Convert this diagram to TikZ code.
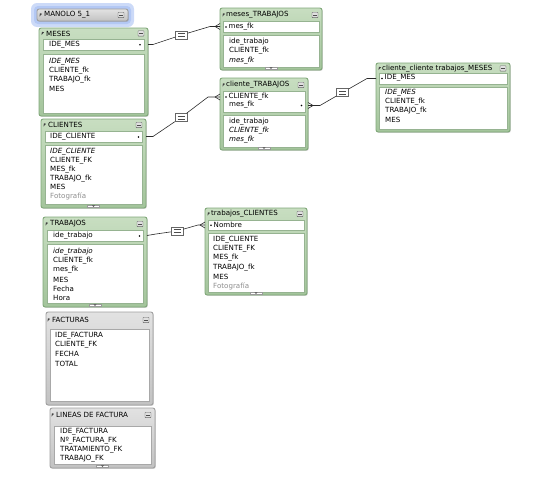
\documentclass[tikz,border=0pt]{standalone}
\usepackage{fontspec}
\setmainfont{DejaVu Sans}
\usetikzlibrary{shadows,calc}
\definecolor{gbord}{HTML}{80A879}
\definecolor{gtop}{HTML}{C8DEC1}
\definecolor{gbot}{HTML}{A3C49B}
\definecolor{ginner}{HTML}{96B391}
\definecolor{gybord}{HTML}{A0A0A0}
\definecolor{gytop}{HTML}{E2E2E2}
\definecolor{gybot}{HTML}{C2C2C2}
\definecolor{gyinner}{HTML}{A8A8A8}
\definecolor{linec}{HTML}{2A2A2A}
\definecolor{fotoc}{HTML}{8E8E8E}
\definecolor{glowc}{HTML}{CCDAF8}
\definecolor{glowd}{HTML}{B3C8F4}
\tikzset{
  shd/.style={drop shadow={shadow xshift=0.8pt,shadow yshift=-0.9pt,opacity=0.35}},
  gtbl/.style={draw=gbord,line width=0.9pt,rounded corners=2.2pt,top color=gtop,bottom color=gbot,inner sep=0pt,outer sep=0pt,shd},
  gytbl/.style={draw=gybord,line width=0.9pt,rounded corners=2.2pt,top color=gytop,bottom color=gybot,inner sep=0pt,outer sep=0pt,shd},
  ginbox/.style={draw=ginner,line width=0.5pt,fill=white,inner sep=0pt,outer sep=0pt},
  gyinbox/.style={draw=gyinner,line width=0.5pt,fill=white,inner sep=0pt,outer sep=0pt},
  fld/.style={anchor=west,inner sep=0pt,font=\fontsize{7.1}{8}\selectfont,text=black},
  ttl/.style={anchor=west,inner sep=0pt,font=\fontsize{7.1}{8}\selectfont,text=black},
  conn/.style={draw=linec,line width=0.6pt},
  eqbox/.style={draw=black!60,line width=0.5pt,fill=white,minimum width=12pt,minimum height=8pt,inner sep=0pt},
  eqline/.style={draw=black!70,line width=0.5pt},
  keydot/.style={fill=black},
}
\newcommand\mybox[6]{\node[#1,anchor=north west,minimum width={(#5-#3)*1pt},minimum height={(#6-#4)*1pt}] (#2) at (#3,#4) {};}
\newcommand\hdricons[3]{%
  \fill[black!75] (#1,#2+1.6) -- (#1+2.6,#2-1.4) -- (#1+0.4,#2-1.6) -- cycle;
  \draw[black!60,line width=0.4pt,rounded corners=0.6pt,fill=black!12] (#3-9,#2-2.8) rectangle (#3-3,#2+2.6);
  \draw[black!70,line width=0.6pt] (#3-8,#2-0.1) -- (#3-4,#2-0.1);}
\newcommand\scrollmk[2]{%
  \draw[black!40,line width=0.3pt,fill=white] (#1-6,#2-3.2) rectangle (#1+6,#2-0.6);
  \fill[black!70] (#1-1.5,#2-2.6) -- (#1+1.5,#2-2.6) -- (#1,#2-1.1) -- cycle;}
\begin{document}
\begin{tikzpicture}[x=1pt,y=-1pt]
\useasboundingbox (0,0) rectangle (538,479);

% MANOLO 5_1
\fill[glowc,rounded corners=6pt] (31,3) rectangle (134,27);
\fill[glowd,rounded corners=4pt] (34,6) rectangle (131,24);
\mybox{gytbl}{manolo}{37}{9}{128}{21}
\node[ttl] (manolot) at (44,15) {MANOLO 5\_1};
\hdricons{39.5}{15}{127}

% MESES
\mybox{gtbl}{meses}{39}{28}{148}{116}
\node[ttl] (mesest) at (46,33.5) {MESES};
\hdricons{41.5}{33.5}{147}
\mybox{ginbox}{meseskey}{43}{39}{144}{50}
\node[fld] (mesesk1) at (49,44.5) {IDE\_MES};
\fill[keydot] (140,44.8) circle (0.9);
\mybox{ginbox}{mesesf}{43}{54}{144}{113}
\node[fld] (mesesf1) at (49,62) {\itshape IDE\_MES};
\node[fld] (mesesf2) at (49,71) {CLIENTE\_fk};
\node[fld] (mesesf3) at (49,80) {TRABAJO\_fk};
\node[fld] (mesesf4) at (49,89) {MES};

% CLIENTES
\mybox{gtbl}{clientes}{41}{119}{146}{208}
\node[ttl] (clientest) at (48,125) {CLIENTES};
\hdricons{43.5}{125}{145}
\mybox{ginbox}{clienteskey}{45}{131}{142}{142}
\node[fld] (clientesk1) at (50,136.5) {IDE\_CLIENTE};
\fill[keydot] (138.5,137) circle (0.9);
\mybox{ginbox}{clientesf}{45}{145}{142}{204}
\node[fld] (clientesf1) at (50,152) {\itshape IDE\_CLIENTE};
\node[fld] (clientesf2) at (50,161) {CLIENTE\_FK};
\node[fld] (clientesf3) at (50,169.5) {MES\_fk};
\node[fld] (clientesf4) at (50,178.5) {TRABAJO\_fk};
\node[fld] (clientesf5) at (50,187) {MES};
\node[fld,text=fotoc] (clientesf6) at (50,196) {Fotografía};
\scrollmk{93.5}{208}

% TRABAJOS
\mybox{gtbl}{trabajos}{43}{217}{147}{307}
\node[ttl] (trabajost) at (50,224) {TRABAJOS};
\hdricons{45.5}{224}{146}
\mybox{ginbox}{trabajoskey}{47}{230}{143}{241}
\node[fld] (trabajosk1) at (53,235.5) {ide\_trabajo};
\fill[keydot] (139.5,236) circle (0.9);
\mybox{ginbox}{trabajosf}{47}{244}{143}{303}
\node[fld] (trabajosf1) at (53,252) {\itshape ide\_trabajo};
\node[fld] (trabajosf2) at (53,261) {CLIENTE\_fk};
\node[fld] (trabajosf3) at (53,270) {mes\_fk};
\node[fld] (trabajosf4) at (53,280) {MES};
\node[fld] (trabajosf5) at (53,289) {Fecha};
\node[fld] (trabajosf6) at (53,298) {Hora};
\scrollmk{95}{307}

% FACTURAS
\mybox{gytbl}{facturas}{46}{312}{153}{405}
\node[ttl] (facturast) at (52,320) {FACTURAS};
\hdricons{47.5}{320}{152}
\mybox{gyinbox}{facturasf}{50}{329}{149}{401}
\node[fld] (facturasf1) at (55,336) {IDE\_FACTURA};
\node[fld] (facturasf2) at (55,345) {CLIENTE\_FK};
\node[fld] (facturasf3) at (55,354) {FECHA};
\node[fld] (facturasf4) at (55,364) {TOTAL};

% LINEAS DE FACTURA
\mybox{gytbl}{lineas}{50}{408}{155}{468}
\node[ttl] (lineast) at (56,415) {LINEAS DE FACTURA};
\hdricons{51.5}{415}{154}
\mybox{gyinbox}{lineasf}{54}{426}{151}{464}
\node[fld] (lineasf1) at (60,432) {IDE\_FACTURA};
\node[fld] (lineasf2) at (60,441) {Nº\_FACTURA\_FK};
\node[fld] (lineasf3) at (60,450) {TRATAMIENTO\_FK};
\node[fld] (lineasf4) at (60,459) {TRABAJO\_FK};
\scrollmk{102.5}{468}

% meses_TRABAJOS
\mybox{gtbl}{mtrab}{220}{8}{322}{70}
\node[ttl] (mtrabt) at (226,15) {meses\_TRABAJOS};
\hdricons{222.5}{15}{321}
\mybox{ginbox}{mtrabkey}{223}{21}{319}{32}
\fill[keydot] (226,27) circle (0.9);
\node[fld] (mtrabk1) at (228.5,26.5) {mes\_fk};
\mybox{ginbox}{mtrabf}{223}{35}{319}{67}
\node[fld] (mtrabf1) at (229,42) {ide\_trabajo};
\node[fld] (mtrabf2) at (229,51) {CLIENTE\_fk};
\node[fld] (mtrabf3) at (229,61) {\itshape mes\_fk};
\scrollmk{271}{70}

% cliente_TRABAJOS
\mybox{gtbl}{ctrab}{220}{78}{308}{150}
\node[ttl] (ctrabt) at (226,85) {cliente\_TRABAJOS};
\hdricons{222.5}{85}{307}
\mybox{ginbox}{ctrabkey}{223}{91}{305}{112}
\fill[keydot] (226,97) circle (0.9);
\node[fld] (ctrabk1) at (228.5,96.5) {CLIENTE\_fk};
\node[fld] (ctrabk2) at (229,105) {mes\_fk};
\fill[keydot] (301.5,105.5) circle (0.9);
\mybox{ginbox}{ctrabf}{223}{115}{305}{147}
\node[fld] (ctrabf1) at (229,122) {ide\_trabajo};
\node[fld] (ctrabf2) at (229,131) {\itshape CLIENTE\_fk};
\node[fld] (ctrabf3) at (229,140) {\itshape mes\_fk};
\scrollmk{264}{150}

% cliente_cliente trabajos_MESES
\mybox{gtbl}{ccm}{376}{63}{510}{132}
\node[ttl] (ccmt) at (382,68.5) {cliente\_cliente trabajos\_MESES};
\hdricons{378.5}{68.5}{509}
\mybox{ginbox}{ccmkey}{379}{73}{507}{84}
\fill[keydot] (382,78.5) circle (0.9);
\node[fld] (ccmk1) at (384.5,78) {IDE\_MES};
\mybox{ginbox}{ccmf}{379}{87}{507}{129}
\node[fld] (ccmf1) at (385,93) {\itshape IDE\_MES};
\node[fld] (ccmf2) at (385,102) {CLIENTE\_fk};
\node[fld] (ccmf3) at (385,111) {TRABAJO\_fk};
\node[fld] (ccmf4) at (385,120) {MES};

% trabajos_CLIENTES
\mybox{gtbl}{tcli}{205}{208}{307}{295}
\node[ttl] (tclit) at (211,214) {trabajos\_CLIENTES};
\hdricons{207.5}{214}{306}
\mybox{ginbox}{tclikey}{208}{220}{304}{230}
\fill[keydot] (211,225.3) circle (0.9);
\node[fld] (tclik1) at (213.5,225) {Nombre};
\mybox{ginbox}{tclif}{208}{233}{304}{292}
\node[fld] (tclif1) at (213,240) {IDE\_CLIENTE};
\node[fld] (tclif2) at (213,249) {CLIENTE\_FK};
\node[fld] (tclif3) at (213,258) {MES\_fk};
\node[fld] (tclif4) at (213,267.5) {TRABAJO\_fk};
\node[fld] (tclif5) at (213,277) {MES};
\node[fld,text=fotoc] (tclif6) at (213,286.5) {Fotografía};
\scrollmk{256}{295}

% equality boxes
\node[eqbox] (eq1) at (181.5,35) {};
\node[eqbox] (eq2) at (181,117.5) {};
\node[eqbox] (eq3) at (342.5,92.5) {};
\node[eqbox] (eq4) at (177,231) {};

% connectors
\coordinate (t1) at (mtrab.west |- mtrabkey.center);
\coordinate (t2) at (220,97);
\coordinate (s3) at (308,105.5);
\coordinate (t3) at (ccm.west |- ccmkey.center);
\coordinate (t4) at (tcli.west |- tclikey.center);

\draw[conn] (meses.east |- meseskey.center) -- ++(5,0) -- (eq1);
\draw[conn] (eq1) -- ($(t1)+(-10,0)$) -- (t1);
\draw[conn] ($(t1)+(-5,0)$) -- ($(t1)+(0,-3)$) ($(t1)+(-5,0)$) -- ($(t1)+(0,3)$);

\draw[conn] (clientes.east |- clienteskey.center) -- ++(7,0) -- (eq2);
\draw[conn] (eq2) -- ($(t2)+(-12,0)$) -- (t2);
\draw[conn] ($(t2)+(-5,0)$) -- ($(t2)+(0,-3)$) ($(t2)+(-5,0)$) -- ($(t2)+(0,3)$);

\draw[conn] (s3) -- ($(s3)+(12,0)$) -- (eq3);
\draw[conn] (eq3) -- ($(t3)+(-9,0)$) -- (t3);
\draw[conn] ($(s3)+(5,0)$) -- ($(s3)+(0,-3)$) ($(s3)+(5,0)$) -- ($(s3)+(0,3)$);

\draw[conn] (trabajos.east |- trabajoskey.center) -- ++(9,-1.5) -- (eq4);
\draw[conn] (eq4) -- ($(t4)+(-7,0)$) -- (t4);
\draw[conn] ($(t4)+(-5,0)$) -- ($(t4)+(0,-3)$) ($(t4)+(-5,0)$) -- ($(t4)+(0,3)$);

% equality marks
\foreach \e in {eq1,eq2,eq3,eq4}{
  \draw[eqline] ($(\e.center)+(-3.5,-1.3)$) -- ++(7,0);
  \draw[eqline] ($(\e.center)+(-3.5,1.3)$) -- ++(7,0);
}
\end{tikzpicture}
\end{document}
